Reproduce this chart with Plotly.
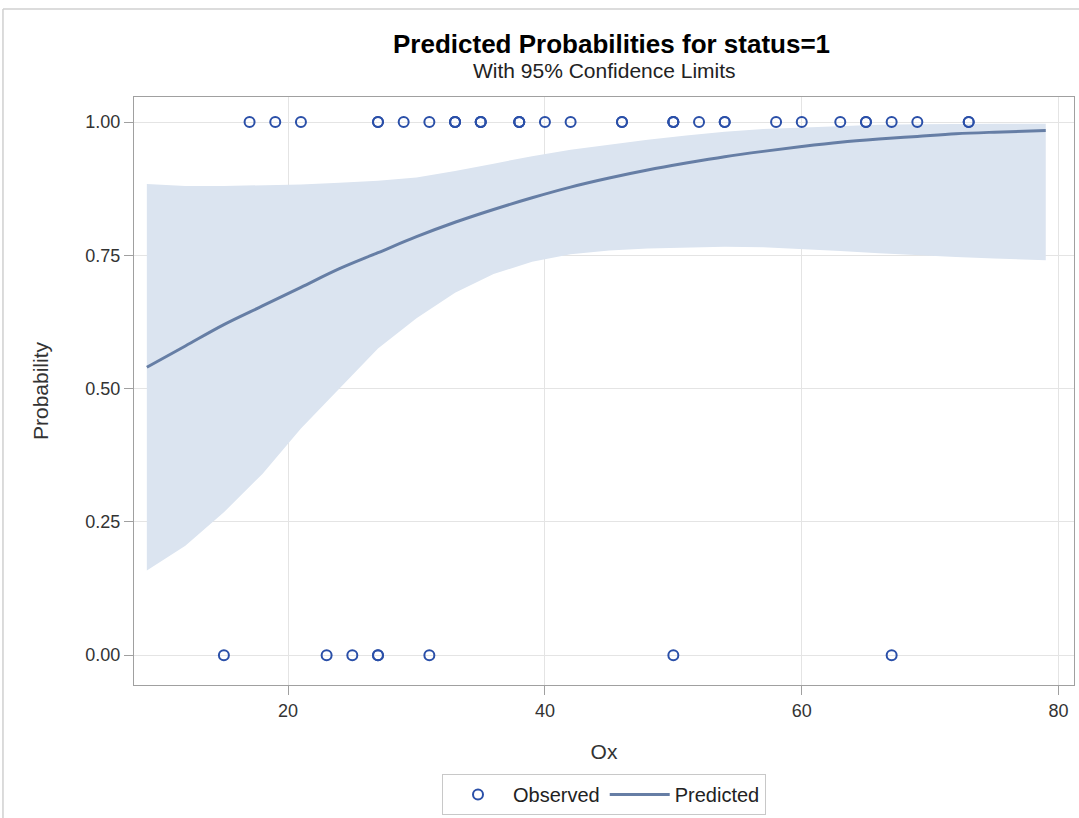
import plotly.graph_objects as go

# Observed data
obs_x_1 = [17, 19, 21, 27, 27, 29, 31, 33, 33, 33, 35, 35, 35, 38, 38, 38, 40, 42,
           46, 46, 50, 50, 50, 52, 54, 54, 58, 60, 63, 65, 65, 67, 69, 73, 73]
obs_x_0 = [15, 23, 25, 27, 27, 31, 50, 67]

# Predicted curve and 95% confidence limits
ox_grid = [9, 12, 15, 18, 21, 24, 27, 30, 33, 36, 39, 42, 45, 48, 51, 54, 57, 60,
           63, 66, 69, 72, 75, 79]
pred = [0.540, 0.580, 0.620, 0.655, 0.690, 0.725, 0.755, 0.785, 0.812, 0.836, 0.858,
        0.878, 0.895, 0.910, 0.923, 0.935, 0.945, 0.954, 0.962, 0.968, 0.973, 0.978,
        0.981, 0.984]
upper = [0.884, 0.880, 0.880, 0.881, 0.883, 0.886, 0.890, 0.896, 0.908, 0.922, 0.936,
         0.948, 0.958, 0.967, 0.975, 0.982, 0.987, 0.990, 0.993, 0.995, 0.996, 0.997,
         0.997, 0.997]
lower = [0.159, 0.205, 0.268, 0.340, 0.425, 0.500, 0.575, 0.632, 0.680, 0.715, 0.738,
         0.752, 0.759, 0.763, 0.765, 0.766, 0.765, 0.762, 0.758, 0.754, 0.750, 0.747,
         0.744, 0.741]

x_ticks = [20, 40, 60, 80]
y_ticks = [0.0, 0.25, 0.5, 0.75, 1.0]
y_ticklabels = ["0.00", "0.25", "0.50", "0.75", "1.00"]

FONT = "Liberation Sans, Arial, sans-serif"
band_color = "#dbe4f0"
line_color = "#667ea5"
marker_color = "#2a4fa8"

fig = go.Figure()

fig.add_trace(go.Scatter(x=ox_grid, y=upper, mode="lines", line=dict(width=0, color=band_color),
                         showlegend=False, hoverinfo="skip"))
fig.add_trace(go.Scatter(x=ox_grid, y=lower, mode="lines", line=dict(width=0, color=band_color),
                         fill="tonexty", fillcolor=band_color, showlegend=False, hoverinfo="skip"))

fig.add_trace(go.Scatter(x=obs_x_1 + obs_x_0, y=[1] * len(obs_x_1) + [0] * len(obs_x_0),
                         mode="markers", name="Observed",
                         marker=dict(symbol="circle-open", size=10, color=marker_color,
                                     line=dict(width=2, color=marker_color))))
fig.add_trace(go.Scatter(x=ox_grid, y=pred, mode="lines", name="Predicted",
                         line=dict(color=line_color, width=3, shape="spline")))

# Outer frame (gray top and left edges)
fig.add_shape(type="line", xref="paper", yref="paper", x0=-0.1394, x1=1.01, y0=1.1497, y1=1.1497,
              line=dict(color="#d0d0d0", width=1.5))
fig.add_shape(type="line", xref="paper", yref="paper", x0=-0.1394, x1=-0.1394, y0=1.1497, y1=-0.24,
              line=dict(color="#d0d0d0", width=1.5))

fig.add_annotation(text="<b>Predicted Probabilities for status=1</b>", xref="paper", yref="paper",
                   x=0.508, y=(685 - 44) / 588, xanchor="center", yanchor="middle", showarrow=False,
                   font=dict(family=FONT, size=26, color="#000000"))
fig.add_annotation(text="With 95% Confidence Limits", xref="paper", yref="paper",
                   x=0.5, y=(685 - 70) / 588, xanchor="center", yanchor="middle", showarrow=False,
                   font=dict(family=FONT, size=21, color="#222222"))

fig.update_layout(
    width=1079, height=818,
    margin=dict(l=134, r=5, t=97, b=133, autoexpand=False),
    paper_bgcolor="white", plot_bgcolor="white",
    font=dict(family=FONT, size=19, color="#333333"),
    legend=dict(orientation="h", x=0.5, xanchor="center", y=(685 - 774) / 588, yanchor="top",
                bordercolor="#c8c8c8", borderwidth=1, font=dict(size=20, color="#222222"),
                traceorder="normal", itemwidth=60, tracegroupgap=0),
    xaxis=dict(range=[8.0, 81.2], tickvals=x_ticks, showgrid=True, gridcolor="#e4e4e4",
               showline=True, linecolor="#a0a0a0", linewidth=1, mirror=True,
               ticks="outside", ticklen=9, tickcolor="#a0a0a0", zeroline=False,
               title=dict(text="Ox", standoff=24, font=dict(size=21, color="#333333")),
               tickfont=dict(size=18, color="#333333")),
    yaxis=dict(range=[-0.056, 1.047], tickvals=y_ticks, ticktext=y_ticklabels, showgrid=True,
               gridcolor="#e4e4e4", showline=True, linecolor="#a0a0a0", linewidth=1, mirror=True,
               ticks="outside", ticklen=9, tickcolor="#a0a0a0", zeroline=False,
               title=dict(text="Probability", standoff=31, font=dict(size=21, color="#333333")),
               tickfont=dict(size=18, color="#333333")),
)

fig.write_html("out.html", post_script="document.body.style.margin='0';",
               config={"displayModeBar": False})
